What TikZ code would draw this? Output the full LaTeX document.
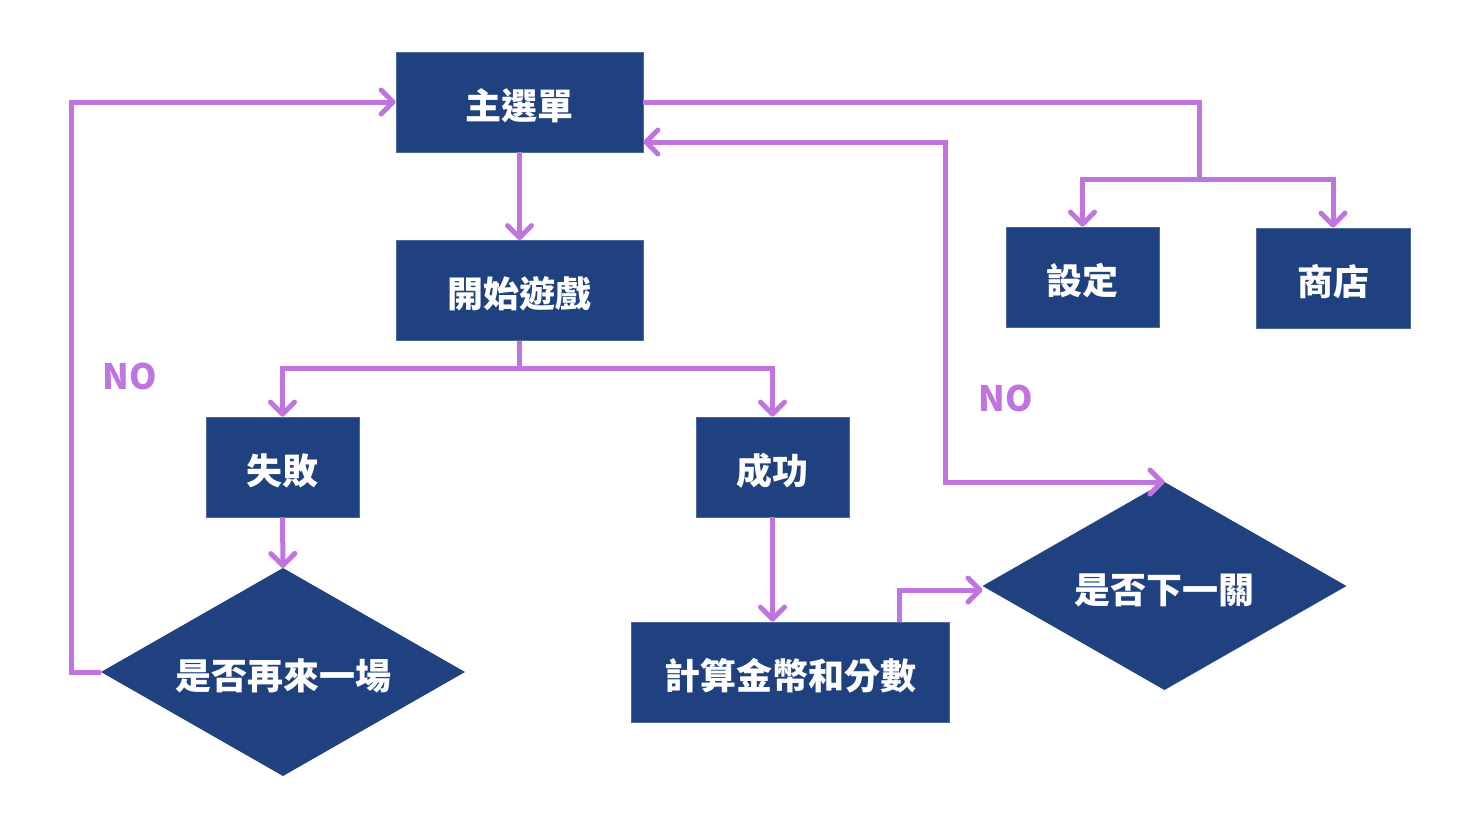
\documentclass[tikz,border=0pt]{standalone}
\usepackage{fontspec}
\usetikzlibrary{arrows.meta,shapes.geometric,calc}
\newfontfamily\cjk{Noto Sans CJK TC}
\definecolor{boxblue}{HTML}{1F4180}
\definecolor{flowpurple}{HTML}{C074E0}
% text inside a decision: no size of its own, so the diamond keeps its set size
\newcommand{\decisiontext}[1]{\raisebox{-8.5pt}[0pt][0pt]{\makebox[0pt]{#1}}}
\begin{document}
\begin{tikzpicture}[x=0.5pt,y=-0.5pt,
  stepbox/.style={rectangle, fill=boxblue, draw=boxblue!80!white, line width=0.4pt,
    inner sep=0pt, text=white, text height=17pt, text depth=0pt,
    font=\cjk\bfseries\fontsize{18pt}{20pt}\selectfont},
  decision/.style={diamond, fill=boxblue, inner sep=0pt, outer sep=0pt, text=white,
    minimum width=182pt, minimum height=104pt,
    font=\cjk\bfseries\fontsize{18pt}{20pt}\selectfont},
  flow/.style={draw=flowpurple, line width=2.5pt},
  arr/.style={flow, -{Straight Barb[length=6pt,width=12pt,round]}},
  darr/.style={flow, {Straight Barb[length=6pt,width=12pt,round]}-{Straight Barb[length=6pt,width=12pt,round]}},
  nolabel/.style={text=flowpurple, font=\cjk\bfseries\fontsize{17.5pt}{19pt}\selectfont}]
  \useasboundingbox[fill=white] (0,0) rectangle (1464,814);

  % boxes
  \node[stepbox, minimum width=123.5pt, minimum height=50pt] (menu) at (519.5,102) {主選單};
  \node[stepbox, minimum width=123.5pt, minimum height=50pt] (start) at (519.5,290.5) {開始遊戲};
  \node[stepbox, minimum width=76.5pt, minimum height=50pt] (fail) at (282.5,467) {失敗};
  \node[stepbox, minimum width=76.5pt, minimum height=50pt] (succ) at (772.5,467) {成功};
  \node[stepbox, minimum width=76.5pt, minimum height=50pt] (settings) at (1082.5,277) {設定};
  \node[stepbox, minimum width=77pt, minimum height=50pt] (shop) at (1333,278) {商店};
  \node[stepbox, minimum width=159pt, minimum height=50pt] (calc) at (790,672) {計算金幣和分數};

  % decisions
  \node[decision] (again) at (283,672) {\decisiontext{是否再來一場}};
  \node[decision] (next) at (1164.5,586) {\decisiontext{是否下一關}};

  % labels
  \node[nolabel] (no1) at (130,376) {NO};
  \node[nolabel] (no2) at (1006,398) {NO};

  % branch points
  \coordinate (split1) at (519.5,368);
  \coordinate (split2) at (1199,179);

  % connectors
  \draw[arr] (menu.south) -- (start.north);
  \draw[flow] (start.south) -- (split1);
  \draw[arr] (split1) -| (fail.north);
  \draw[arr] (split1) -| (succ.north);
  \draw[arr] (fail.south) -- (again.north);
  \draw[arr] (succ.south) -- (succ.south |- calc.north);
  \draw[arr] ($(calc.north)+(109,0)$) |- ($(next.west)+(0,4)$);
  \draw[arr] (again.west) -- ++(-30,0) |- (menu.west);
  \draw[flow] (menu.east) -| (split2);
  \draw[arr] (split2) -| (settings.north);
  \draw[arr] (split2) -| (shop.north);
  \draw[darr] ($(menu.east)+(0,40)$) -- ++(302,0) |- (next.north);
\end{tikzpicture}
\end{document}
